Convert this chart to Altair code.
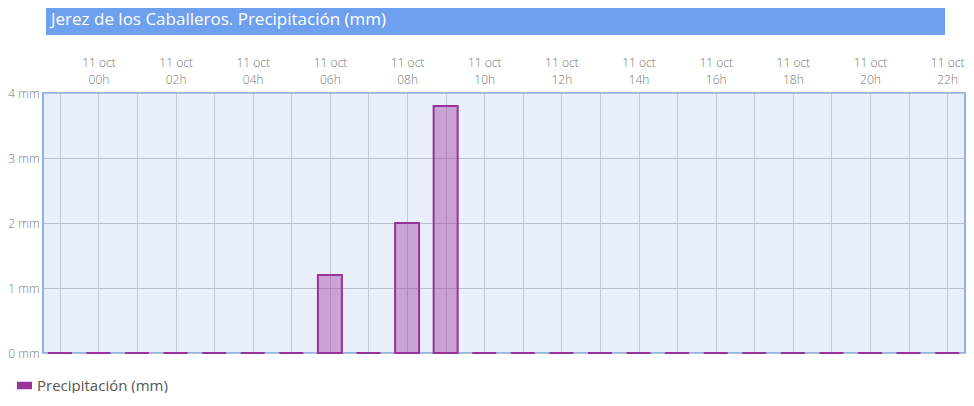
import altair as alt
import pandas as pd

# Data
hours = [-1, 0, 1, 2, 3, 4, 5, 6, 7, 8, 9, 10, 11, 12, 13, 14, 15, 16, 17, 18, 19, 20, 21, 22]
precip = [0, 0, 0, 0, 0, 0, 0, 1.2, 0, 2.0, 3.8, 0, 0, 0, 0, 0, 0, 0, 0, 0, 0, 0, 0, 0]
series = ["Precipitación (mm)"] * len(hours)
title_text = "Jerez de los Caballeros. Precipitación (mm)"
day_label = "11 oct"
y_ticks = [0, 1, 2, 3, 4]

df = pd.DataFrame({"hour": hours, "value": precip, "serie": series})

FONT = "Open Sans"
PURPLE = "#993399"

x_axis = alt.Axis(
    orient="top",
    values=hours,
    grid=True,
    gridColor="#c4c8d4",
    gridWidth=1,
    ticks=False,
    domain=False,
    labelExpr=(
        "datum.value >= 0 && datum.value % 2 == 0 ? ['" + day_label + "', "
        "(datum.value < 10 ? '0' : '') + datum.value + 'h'] : ''"
    ),
    labelFont=FONT,
    labelFontSize=12,
    labelFontWeight=300,
    labelColor="#777777",
    labelLineHeight=17,
    labelPadding=24,
    labelOverlap=False,
    labelFlush=False,
    labelBaseline="bottom",
    title=None,
)

y_axis = alt.Axis(
    values=y_ticks,
    grid=True,
    gridColor="#bcc0cc",
    gridWidth=1,
    ticks=False,
    domain=False,
    labelExpr="datum.value + ' mm'",
    labelFont=FONT,
    labelFontSize=12,
    labelFontWeight=300,
    labelColor="#777777",
    labelPadding=4,
    title=None,
)

bars = alt.Chart(df).mark_bar(
    size=24,
    fillOpacity=0.4,
    stroke=PURPLE,
    strokeWidth=2,
).encode(
    x=alt.X("hour:Q", scale=alt.Scale(domain=[-1.3077, 22.333], nice=False, zero=False), axis=x_axis),
    y=alt.Y("value:Q", scale=alt.Scale(domain=[0, 4], nice=False), axis=y_axis),
    fill=alt.Fill(
        "serie:N",
        scale=alt.Scale(range=[PURPLE]),
        legend=alt.Legend(
            orient="none",
            legendX=-26,
            legendY=285,
            title=None,
            symbolType="M-1,-0.5H1V0.5H-1Z",
            symbolSize=225,
            symbolOpacity=1,
            symbolStrokeWidth=0,
            labelFont=FONT,
            labelFontSize=15,
            labelColor="#555555",
            labelOffset=5,
            padding=0,
        ),
    ),
)

title_df = pd.DataFrame({"t": [title_text]})
title_box = alt.Chart(title_df).mark_rect(color="#6fa0ee").encode(
    x=alt.value(3), x2=alt.value(902), y=alt.value(-91), y2=alt.value(-58)
)
title_txt = alt.Chart(title_df).mark_text(
    align="left", baseline="middle", font=FONT, fontSize=17, color="white"
).encode(x=alt.value(8), y=alt.value(-73), text="t:N")

chart = alt.layer(bars, title_box, title_txt).properties(
    width=922,
    height=260,
    autosize=alt.AutoSizeParams(type="none"),
    padding={"left": 35, "top": 85, "right": 1, "bottom": 40},
).configure_view(
    stroke="#8fb4ea", strokeWidth=2, fill="#e9effb"
)

chart.save("out.html", embed_options={"renderer": "svg", "actions": False})
